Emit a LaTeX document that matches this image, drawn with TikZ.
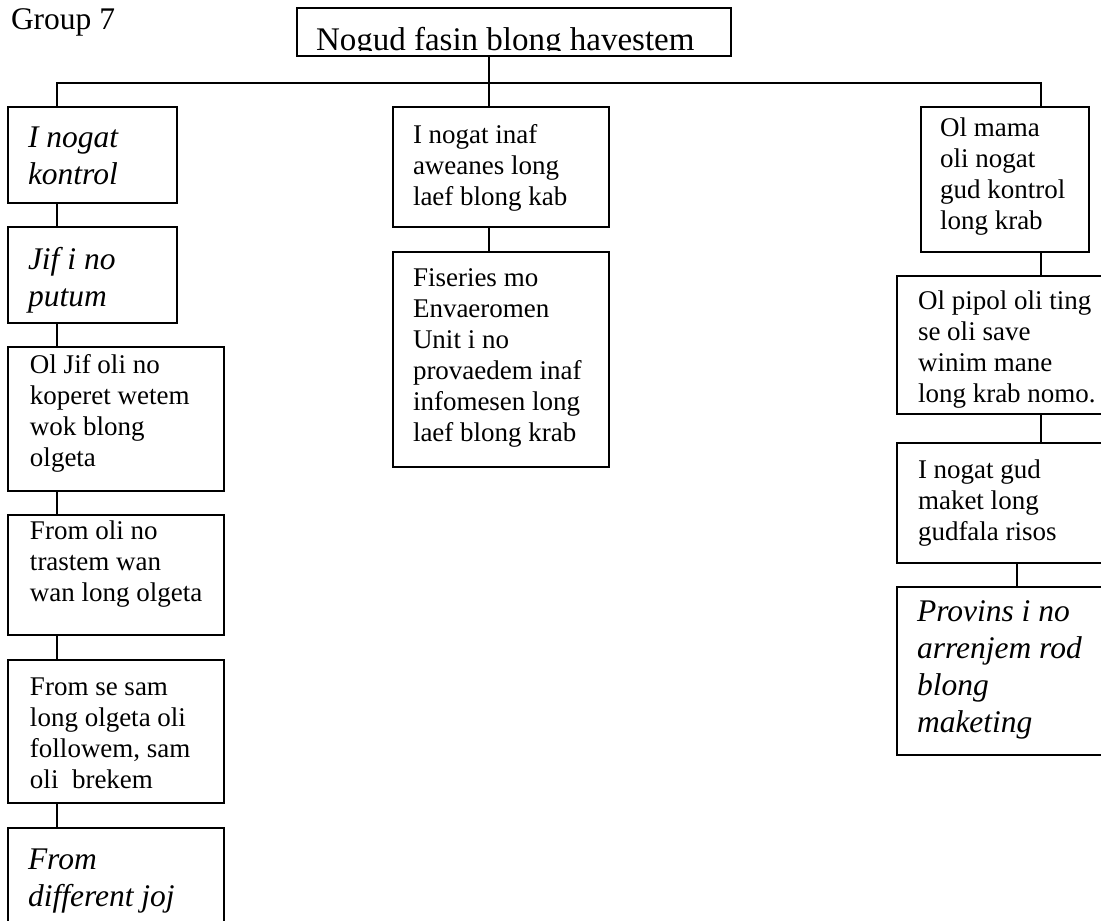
\documentclass[tikz,border=0pt]{standalone}
\usepackage{fontspec}
\setmainfont{Liberation Serif}
\begin{document}
\begin{tikzpicture}[x=1pt,y=-1pt,
  frame/.style={draw, line width=1.7pt, anchor=north west, inner sep=0pt, outer sep=0pt},
  plain/.style={anchor=base west, inner sep=0pt, outer sep=0pt, font=\fontsize{27pt}{31pt}\selectfont},
  slant/.style={anchor=base west, inner sep=0pt, outer sep=0pt, font=\fontsize{31.5pt}{37pt}\selectfont\itshape},
  heading/.style={anchor=base west, inner sep=0pt, outer sep=0pt, font=\fontsize{31.5pt}{37pt}\selectfont},
  link/.style={line width=1.7pt},
]
% page area
\clip (0,0) rectangle (1101,921);
\fill[white] (0,0) rectangle (1101,921);

% empty framed box: name, left, top, width, height
\newcommand\panel[5]{\node[frame, minimum width=#4pt, minimum height=#5pt] (#1) at (#2,#3) {};}

\node[heading] (grp) at (11,29) {Group 7};

% top box, its text cut off at the lower edge
\panel{T}{297}{8}{434}{48}
\begin{scope}
  \clip (297,8) rectangle (731,50);
  \node[heading, font=\fontsize{33pt}{37pt}\selectfont] (Tt) at (316,50) {Nogud fasin blong havestem};
\end{scope}

% left column
\panel{L1}{8}{107}{169}{96}
\panel{L2}{8}{227}{169}{96}
\panel{L3}{8}{347}{216}{144}
\panel{L4}{8}{515}{216}{120}
\panel{L5}{8}{660}{216}{143}
\panel{L6}{8}{828}{216}{140}
\node[slant] (L1t) at (28,147) {\parbox[t]{160pt}{I nogat\\kontrol}};
\node[slant] (L2t) at (28,269) {\parbox[t]{160pt}{Jif i no\\putum}};
\node[plain] (L3t) at (30,373) {\parbox[t]{200pt}{Ol Jif oli no\\koperet wetem\\wok blong\\olgeta}};
\node[plain] (L4t) at (30,539) {\parbox[t]{200pt}{From oli no\\trastem wan\\wan long olgeta}};
\node[plain] (L5t) at (30,695) {\parbox[t]{200pt}{From se sam\\long olgeta oli\\followem, sam\\oli\ \ brekem}};
\node[slant] (L6t) at (28,869) {\parbox[t]{200pt}{From\\different joj}};

% middle column
\panel{M1}{393}{107}{216}{120}
\panel{M2}{393}{252}{216}{215}
\node[plain] (M1t) at (413,143) {\parbox[t]{200pt}{I nogat inaf\\aweanes long\\laef blong kab}};
\node[plain] (M2t) at (413,286) {\parbox[t]{200pt}{Fiseries mo\\Envaeromen\\Unit i no\\provaedem inaf\\infomesen long\\laef blong krab}};

% right column
\panel{R1}{921}{107}{168}{145}
\panel{R2}{897}{276}{240}{138}
\panel{R3}{897}{443}{240}{120}
\panel{R4}{897}{587}{240}{168}
\node[plain] (R1t) at (940,136) {\parbox[t]{160pt}{Ol mama\\oli nogat\\gud kontrol\\long krab}};
\node[plain] (R2t) at (918,309) {\parbox[t]{200pt}{Ol pipol oli ting\\se oli save\\winim mane\\long krab nomo.}};
\node[plain] (R3t) at (918,478) {\parbox[t]{200pt}{I nogat gud\\maket long\\gudfala risos}};
\node[slant] (R4t) at (917,621) {\parbox[t]{200pt}{Provins i no\\arrenjem rod\\blong\\maketing}};

% connector lines
\coordinate (bl) at (57,83);
\coordinate (bm) at (489,83);
\coordinate (br) at (1041,83);
\coordinate (rr) at (1017,83);
\draw[link] (bl |- L1.north) -- (bl) -- (br) -- (br |- R1.north);
\draw[link] (bm |- T.south) -- (bm |- M1.north);
\draw[link] (bl |- L1.south) -- (bl |- L2.north);
\draw[link] (bl |- L2.south) -- (bl |- L3.north);
\draw[link] (bl |- L3.south) -- (bl |- L4.north);
\draw[link] (bl |- L4.south) -- (bl |- L5.north);
\draw[link] (bl |- L5.south) -- (bl |- L6.north);
\draw[link] (bm |- M1.south) -- (bm |- M2.north);
\draw[link] (br |- R1.south) -- (br |- R2.north);
\draw[link] (br |- R2.south) -- (br |- R3.north);
\draw[link] (rr |- R3.south) -- (rr |- R4.north);
\end{tikzpicture}
\end{document}
